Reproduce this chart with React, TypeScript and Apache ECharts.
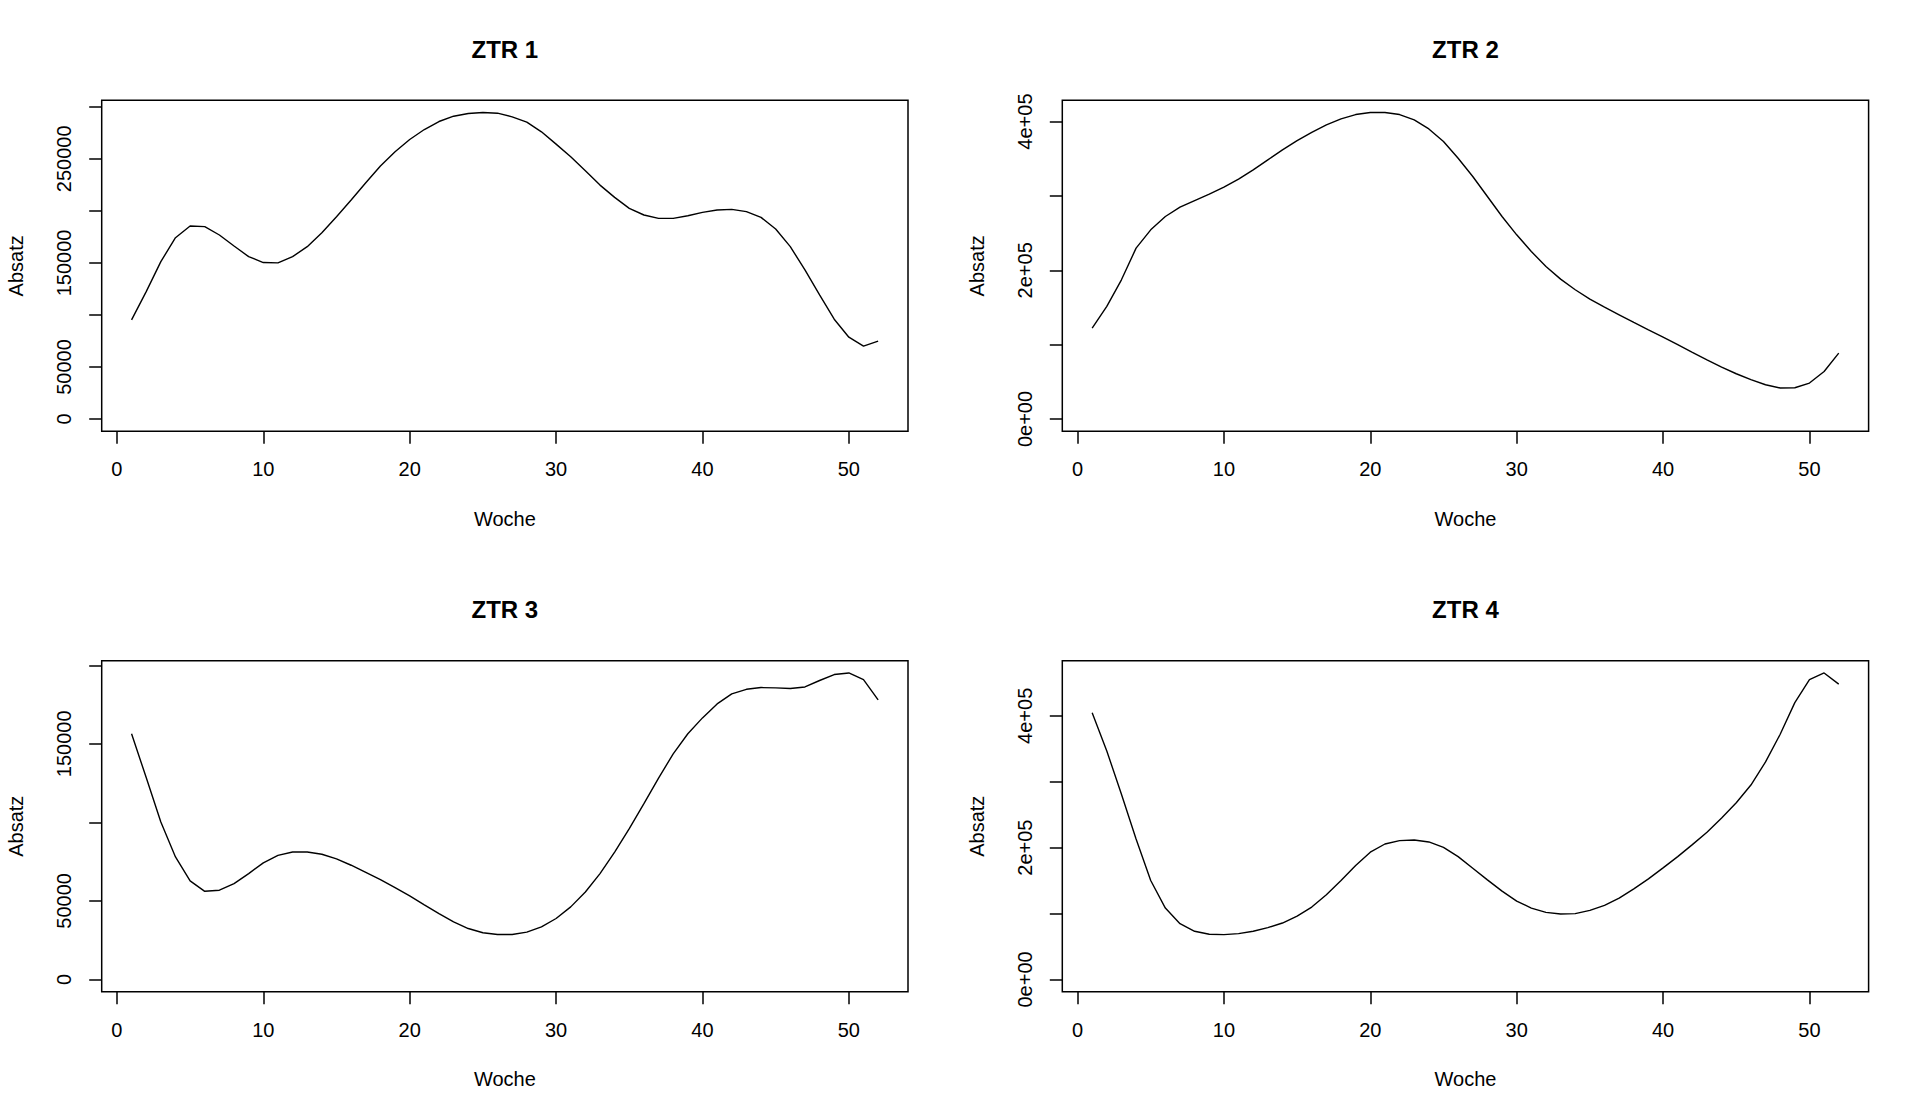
import React, { useEffect, useRef } from "react";
import * as echarts from "echarts";

const weeks = [
  1, 2, 3, 4, 5, 6, 7, 8, 9, 10, 11, 12, 13, 14, 15, 16, 17, 18, 19, 20, 21, 22, 23, 24, 25, 26,
  27, 28, 29, 30, 31, 32, 33, 34, 35, 36, 37, 38, 39, 40, 41, 42, 43, 44, 45, 46, 47, 48, 49, 50, 51, 52,
];

const ztr1 = [
  95300, 122400, 151200, 174200, 185400, 184800, 176800, 166200, 156000, 150300, 150000, 156000, 165600,
  179000, 194400, 210400, 227000, 243000, 256700, 268500, 278100, 285800, 290900, 293500, 294400, 293800,
  290300, 285200, 275900, 264100, 251900, 238500, 224700, 212900, 202400, 196000, 192800, 192800, 195300,
  198500, 200800, 201400, 199200, 193700, 182500, 165600, 143200, 119200, 95900, 78600, 70000, 74800,
];

const ztr2 = [
  122300, 151400, 187200, 229800, 254400, 272300, 284900, 293800, 302300, 311700, 322500, 335000, 348500,
  361900, 374400, 385600, 395500, 403600, 409400, 412100, 412100, 409400, 402200, 390100, 373100, 350700,
  326100, 299200, 272300, 247700, 225300, 205100, 188100, 173800, 161200, 150500, 140200, 129900, 120000,
  110200, 99900, 89600, 79700, 69900, 60900, 52900, 46100, 41700, 42100, 48400, 64000, 88700,
];

const ztr3 = [
  156400, 128500, 100200, 78000, 62700, 56100, 56800, 61000, 67400, 74200, 79000, 81100, 81100,
  79700, 76700, 72700, 68200, 63600, 58500, 53200, 47500, 41900, 36700, 32400, 29700, 28600,
  28600, 30100, 33500, 38800, 46200, 55700, 67400, 81100, 96000, 111900, 128200, 143600, 156400,
  166500, 175400, 181800, 184700, 185800, 185600, 185200, 186200, 190300, 194100, 195100, 190900, 178000,
];

const ztr4 = [
  404500, 346600, 281100, 213100, 150100, 108300, 84600, 73100, 68500, 68000, 69500, 73100, 78600,
  85600, 96200, 109800, 128500, 150100, 172800, 193000, 205500, 210600, 211600, 208600, 200500, 186400,
  168800, 151100, 134000, 118900, 108300, 101800, 99200, 99800, 104800, 112300, 123400, 137500, 152600,
  169300, 186400, 204500, 223200, 245000, 268000, 295000, 330000, 372000, 420000, 455000, 465000, 448000,
];

const titles = ["ZTR 1", "ZTR 2", "ZTR 3", "ZTR 4"];
const xName = "Woche";
const yName = "Absatz";

const xTicks = [0, 10, 20, 30, 40, 50];
const yTicks1 = [0, 50000, 100000, 150000, 200000, 250000, 300000];
const yLabels1 = [0, 50000, 150000, 250000];
const yTicks2 = [0, 100000, 200000, 300000, 400000];
const yLabels2 = [0, 200000, 400000];
const yTicks3 = [0, 50000, 100000, 150000, 200000];
const yLabels3 = [0, 50000, 150000];
const yTicks4 = [0, 100000, 200000, 300000, 400000];
const yLabels4 = [0, 200000, 400000];

const FONT = "'Liberation Sans', Arial, Helvetica, sans-serif";

function sci(v: number): string {
  if (v === 0) return "0e+00";
  const e = Math.floor(Math.log10(Math.abs(v)));
  const m = Math.round(v / Math.pow(10, e));
  return `${m}e+${String(e).padStart(2, "0")}`;
}

export default function App() {
  const ref = useRef<HTMLDivElement>(null);

  useEffect(() => {
    if (!ref.current) return;
    const chart = echarts.init(ref.current, undefined, { renderer: "svg" });

    const panels = [
      { data: ztr1, ticks: yTicks1, labels: yLabels1, fmt: (v: number) => String(v) },
      { data: ztr2, ticks: yTicks2, labels: yLabels2, fmt: sci },
      { data: ztr3, ticks: yTicks3, labels: yLabels3, fmt: (v: number) => String(v) },
      { data: ztr4, ticks: yTicks4, labels: yLabels4, fmt: sci },
    ];

    const lefts = [101.7, 1062.3];
    const tops = [100.3, 660.7];
    const W = 806.3;
    const H = 331;

    const grids: any[] = [];
    const xAxes: any[] = [];
    const yAxes: any[] = [];
    const series: any[] = [];
    const graphics: any[] = [];

    const xmin = weeks[0] - 0.04 * (weeks[weeks.length - 1] - weeks[0]);
    const xmax = weeks[weeks.length - 1] + 0.04 * (weeks[weeks.length - 1] - weeks[0]);

    panels.forEach((p, i) => {
      const col = i % 2;
      const row = Math.floor(i / 2);
      const left = lefts[col];
      const top = tops[row];
      grids.push({
        left,
        top,
        width: W,
        height: H,
        show: true,
        borderColor: "#000",
        borderWidth: 1.5,
        backgroundColor: "transparent",
      });
      const mx = Math.max(...p.data);
      xAxes.push({
        type: "value",
        gridIndex: i,
        position: "bottom",
        min: xmin,
        max: xmax,
        axisLine: { show: false, onZero: false },
        splitLine: { show: false },
        axisTick: {
          show: true,
          inside: false,
          length: 12.5,
          customValues: xTicks,
          lineStyle: { color: "#000", width: 1.5 },
        },
        axisLabel: {
          show: true,
          customValues: xTicks,
          margin: 28,
          color: "#000",
          fontFamily: FONT,
          fontSize: 20,
        },
      });
      yAxes.push({
        type: "value",
        gridIndex: i,
        position: "left",
        min: -0.04 * mx,
        max: 1.04 * mx,
        axisLine: { show: false, onZero: false },
        splitLine: { show: false },
        axisTick: {
          show: true,
          inside: false,
          length: 12.5,
          customValues: p.ticks,
          lineStyle: { color: "#000", width: 1.5 },
        },
        axisLabel: {
          show: true,
          customValues: p.labels,
          rotate: 90,
          margin: 27.5,
          color: "#000",
          fontFamily: FONT,
          fontSize: 20,
          formatter: (v: number) => p.fmt(v),
        },
      });
      series.push({
        type: "line",
        xAxisIndex: i,
        yAxisIndex: i,
        data: weeks.map((w, k) => [w, p.data[k]]),
        showSymbol: false,
        symbol: "none",
        lineStyle: { color: "#000", width: 1.4 },
        silent: true,
      });
      const cx = left + W / 2;
      graphics.push({
        type: "text",
        x: cx,
        y: top - 50.8,
        style: {
          text: titles[i],
          fill: "#000",
          font: `bold 24px ${FONT}`,
          textAlign: "center",
          textVerticalAlign: "middle",
        },
      });
      graphics.push({
        type: "text",
        x: cx,
        y: top + H + 87.5,
        style: {
          text: xName,
          fill: "#000",
          font: `20px ${FONT}`,
          textAlign: "center",
          textVerticalAlign: "middle",
        },
      });
      graphics.push({
        type: "text",
        x: left - 85.5,
        y: top + H / 2,
        rotation: Math.PI / 2,
        style: {
          text: yName,
          fill: "#000",
          font: `20px ${FONT}`,
          textAlign: "center",
          textVerticalAlign: "middle",
        },
      });
    });

    chart.setOption({
      animation: false,
      backgroundColor: "#fff",
      grid: grids,
      xAxis: xAxes,
      yAxis: yAxes,
      series,
      graphic: graphics,
    });

    return () => {
      chart.dispose();
    };
  }, []);

  return (
    <div
      ref={ref}
      style={{ position: "fixed", left: 0, top: 0, width: "1919px", height: "1119px", background: "#fff" }}
    />
  );
}
